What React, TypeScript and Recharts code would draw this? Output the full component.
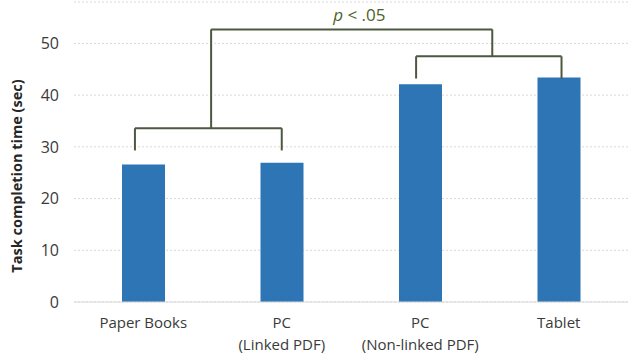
import React from 'react';
import {
  BarChart,
  Bar,
  XAxis,
  YAxis,
  CartesianGrid,
  ReferenceLine,
  ReferenceDot,
} from 'recharts';

// Conditions and mean task completion times (sec)
const conditions = ['Paper Books', 'PC\n(Linked PDF)', 'PC\n(Non-linked PDF)', 'Tablet'];
const completionTimes = [26.6, 26.9, 42.1, 43.4];
const yTicks = [0, 10, 20, 30, 40, 50];

// Significance bracket segments: [x1, y1, x2, y2] in data units (x = condition index)
const bracketSegments: [number, number, number, number][] = [
  // left pair
  [-0.06, 29.3, -0.06, 33.6],
  [-0.06, 33.6, 1.0, 33.6],
  [1.0, 33.6, 1.0, 29.3],
  // right pair
  [1.97, 43.2, 1.97, 47.5],
  [1.97, 47.5, 3.02, 47.5],
  [3.02, 47.5, 3.02, 43.2],
  // connecting bracket
  [0.49, 33.6, 0.49, 52.7],
  [0.49, 52.7, 2.52, 52.7],
  [2.52, 52.7, 2.52, 47.5],
];
const pLabel = { x: 1.56, y: 55.6, text: '.05' };

const data = completionTimes.map((t, i) => ({ idx: i, time: t }));

const BRACKET = '#4d5840';
const TEXT = '#3a3a3a';
const FONT = '"Open Sans", "Noto Sans", sans-serif';

const CategoryTick = (props: any) => {
  const { x, y, payload } = props;
  const lines = conditions[payload.value].split('\n');
  return (
    <g transform={`translate(${x},${y})`}>
      {lines.map((line, i) => (
        <text
          key={i}
          x={0}
          y={0}
          dy={18 + i * 22}
          textAnchor="middle"
          fill={TEXT}
          fontSize={15}
          fontFamily={FONT}
        >
          {line}
        </text>
      ))}
    </g>
  );
};

const PLabel = (props: any) => {
  const { cx, cy } = props;
  return (
    <text
      x={cx}
      y={cy}
      textAnchor="middle"
      dominantBaseline="central"
      fill="#4f6228"
      fontSize={17}
      fontFamily={FONT}
    >
      <tspan fontStyle="italic">p</tspan>
      <tspan> &lt; {pLabel.text}</tspan>
    </text>
  );
};

const YTitle = (props: any) => {
  const { viewBox } = props;
  const cx = 16;
  const cy = viewBox.y + viewBox.height / 2 + 24;
  return (
    <text
      x={cx}
      y={cy}
      transform={`rotate(-90, ${cx}, ${cy})`}
      textAnchor="middle"
      dominantBaseline="central"
      fill="#262626"
      fontSize={14.5}
      fontWeight="bold"
      fontFamily={FONT}
    >
      Task completion time (sec)
    </text>
  );
};

export default function App() {
  return (
    <div style={{ position: 'absolute', left: 0, top: 0, background: '#fff' }}>
      <BarChart
        width={635}
        height={357}
        data={data}
        margin={{ top: 2, right: 7, left: 0, bottom: 0 }}
      >
        <CartesianGrid
          vertical={false}
          stroke="#d9d9d9"
          strokeDasharray="2 2"
        />
        <XAxis
          dataKey="idx"
          type="number"
          domain={[-0.5, 3.5]}
          ticks={[0, 1, 2, 3]}
          tick={<CategoryTick />}
          tickLine={false}
          axisLine={{ stroke: '#d9d9d9' }}
          height={55}
          interval={0}
        />
        <YAxis
          domain={[0, 58]}
          ticks={yTicks}
          width={74}
          axisLine={false}
          tickLine={false}
          tick={{ fill: TEXT, fontSize: 16, fontFamily: FONT }}
          tickMargin={9}
          label={<YTitle />}
        />
        <Bar dataKey="time" fill="#2e75b6" barSize={43} isAnimationActive={false} />
        {bracketSegments.map(([x1, y1, x2, y2], i) => (
          <ReferenceLine
            key={i}
            segment={[
              { x: x1, y: y1 },
              { x: x2, y: y2 },
            ]}
            stroke={BRACKET}
            strokeWidth={2}
            ifOverflow="visible"
          />
        ))}
        <ReferenceDot
          x={pLabel.x}
          y={pLabel.y}
          r={0}
          ifOverflow="visible"
          shape={<PLabel />}
        />
      </BarChart>
    </div>
  );
}
